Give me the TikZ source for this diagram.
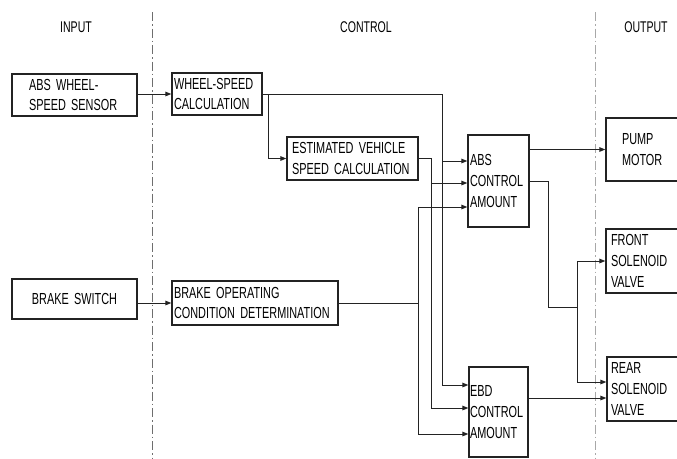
\documentclass[tikz,border=0pt]{standalone}
\usepackage{fontspec}
\setmainfont{Liberation Sans}[FakeStretch=0.68]
\usetikzlibrary{arrows.meta,calc}
\hyphenpenalty=10000
\exhyphenpenalty=10000
\definecolor{wirec}{RGB}{35,35,35}
\definecolor{sepc}{RGB}{110,110,110}
\tikzset{
  unit/.style = {draw=wirec, line width=1.2pt, align=left, inner ysep=0pt,
                 font=\fontsize{16}{20.8}\selectfont},
  head/.style = {font=\fontsize{15.5}{18}\selectfont},
  wire/.style = {draw=wirec, line width=1pt},
  flow/.style = {wire, -{Triangle[length=6pt,width=4.5pt]}},
  sep/.style  = {draw=sepc, line width=0.9pt, dash pattern=on 9pt off 3pt on 1.5pt off 3pt},
}

\begin{document}
\begin{tikzpicture}[x=1pt,y=-1pt]
\useasboundingbox (0,0) rectangle (677,458);

% column headers and separators
\node[head] (hin)  at (76,27)  {INPUT};
\node[head] (hctl) at (366,27) {CONTROL};
\node[head] (hout) at (646,27) {OUTPUT};
\coordinate (sAtop) at (152,12);
\coordinate (sAbot) at (152,458);
\coordinate (sBtop) at (595,12);
\coordinate (sBbot) at (595,458);
\draw[sep] (sAtop) -- (sAbot);
\draw[sep, draw=sepc!60] (sBtop) -- (sBbot);

% input
\node[unit, text width=91pt, inner xsep=17pt, minimum height=42pt] (sensor) at (74.5,95)
  {ABS WHEEL-\\SPEED SENSOR};
\node[unit, align=center, text width=91pt, inner xsep=17pt, minimum height=40pt] (bswitch) at (74.5,299)
  {BRAKE SWITCH};

% control
\node[unit, text width=86pt, inner xsep=2pt, minimum height=42pt] (wheel) at (217,94)
  {WHEEL-SPEED\\CALCULATION};
\node[unit, text width=121pt, inner xsep=5pt, minimum height=43pt] (est) at (352.5,158.5)
  {ESTIMATED VEHICLE\\SPEED CALCULATION};
\node[unit, text width=162pt, inner xsep=2pt, minimum height=44pt] (bop) at (255,303)
  {BRAKE OPERATING\\CONDITION DETERMINATION};
\node[unit, text width=57pt, inner xsep=2pt, minimum height=92pt] (abs) at (498.5,181)
  {ABS\\CONTROL\\AMOUNT\\[-6pt]};
\node[unit, text width=57pt, inner xsep=1pt, minimum height=90pt] (ebd) at (498.5,412)
  {EBD\\CONTROL\\AMOUNT};

% output
\node[unit, text width=42pt, inner xsep=16pt, minimum height=63pt] (pump) at (643,149.5)
  {PUMP\\MOTOR};
\node[unit, text width=64pt, inner xsep=5pt, minimum height=64pt] (front) at (643,261)
  {FRONT\\SOLENOID\\VALVE};
\node[unit, text width=65pt, inner xsep=4pt, minimum height=64pt] (rear) at (643.5,389)
  {REAR\\SOLENOID\\VALVE};

% bend points
\coordinate (wbus) at (442,94);
\coordinate (wabs) at (442,161);
\coordinate (wbot) at (442,385);
\coordinate (wbr)  at (268,94);
\coordinate (ebus) at (431,158.5);
\coordinate (eabs) at (431,183);
\coordinate (ebot) at (431,408);
\coordinate (bjoin) at (418,303);
\coordinate (btop) at (418,207);
\coordinate (bbot) at (418,434);
\coordinate (aout)  at (548,181);
\coordinate (adown) at (548,307);
\coordinate (vjoin) at (577,307);
\coordinate (vtop)  at (577,261);
\coordinate (vbot)  at (577,382);
\coordinate (ebdout) at (528,398);

% signals
\draw[flow] (sensor.east |- wheel.west) -- (wheel.west);
\draw[flow] (bswitch.east |- bop.west) -- (bop.west);
\draw[wire] (wheel.east) -- (wbus) -- (wbot);
\draw[flow] (wbr) |- (est.west);
\draw[flow] (wabs) -- (wabs -| abs.west);
\draw[flow] (wbot) -- (wbot -| ebd.west);
\draw[wire] (est.east) -- (ebus) -- (ebot);
\draw[flow] (eabs) -- (eabs -| abs.west);
\draw[flow] (ebot) -- (ebot -| ebd.west);
\draw[wire] (bop.east) -- (bjoin);
\draw[wire] (btop) -- (bbot);
\draw[flow] (btop) -- (btop -| abs.west);
\draw[flow] (bbot) -- (bbot -| ebd.west);
\draw[flow] (pump.west -| abs.east) -- (pump.west);
\draw[wire] (abs.east) -- (aout) -- (adown) -- (vjoin);
\draw[wire] (vtop) -- (vbot);
\draw[flow] (vtop) -- (front.west);
\draw[flow] (vbot) -- (vbot -| rear.west);
\draw[flow] (ebdout -| ebd.east) -- (ebdout -| rear.west);

\end{tikzpicture}
\end{document}
